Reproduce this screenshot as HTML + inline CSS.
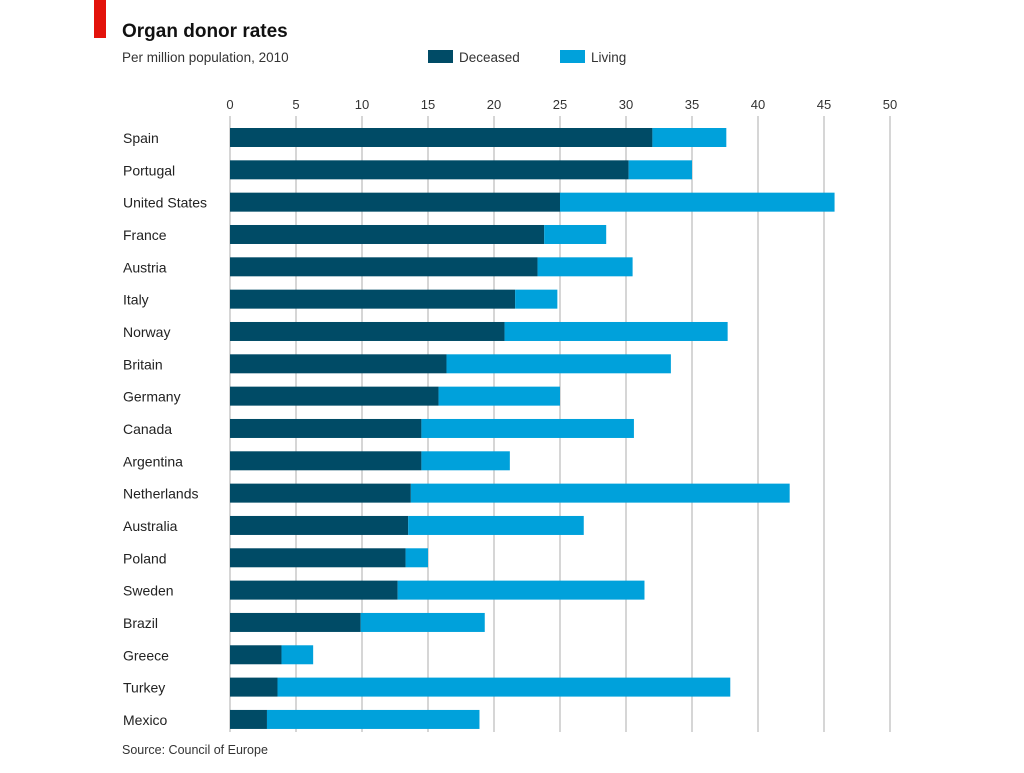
<!DOCTYPE html>
<html><head><meta charset="utf-8"><style>
body{margin:0;background:#fff;width:1024px;height:768px;overflow:hidden;font-family:"Liberation Sans",sans-serif}
</style></head><body>
<svg width="1024" height="768" id="c">
<rect x="94" y="0" width="12" height="38" fill="#e3120b"/>
<text x="122" y="37" font-size="19" font-weight="bold" fill="#111">Organ donor rates</text>
<text x="122" y="62" font-size="13.5" fill="#333">Per million population, 2010</text>
<g>
<rect x="428" y="50" width="25" height="13" fill="#004b66"/>
<text x="459" y="62" font-size="13.5" fill="#333">Deceased</text>
<rect x="560" y="50" width="25" height="13" fill="#00a1db"/>
<text x="591" y="62" font-size="13.5" fill="#333">Living</text>
</g>
<g id="grid"></g>
<g id="bars"></g>
<text x="122" y="754" font-size="12.5" fill="#333">Source: Council of Europe</text>
</svg>
<script>
const categories=["Spain","Portugal","United States","France","Austria","Italy","Norway","Britain","Germany","Canada","Argentina","Netherlands","Australia","Poland","Sweden","Brazil","Greece","Turkey","Mexico"];
const deceased=[32.0,30.2,25.0,23.8,23.3,21.6,20.8,16.4,15.8,14.5,14.5,13.7,13.5,13.3,12.7,9.9,3.9,3.6,2.8];
const living=[5.6,4.8,20.8,4.7,7.2,3.2,16.9,17.0,9.2,16.1,6.7,28.7,13.3,1.7,18.7,9.4,2.4,34.3,16.1];
const ticks=[0,5,10,15,20,25,30,35,40,45,50];
const NS="http://www.w3.org/2000/svg";
const x=v=>230+v*13.2;
const y=i=>138+i*32.33;
const g=document.getElementById('grid'),b=document.getElementById('bars');
function mk(t,a,p){const e=document.createElementNS(NS,t);for(const k in a)e.setAttribute(k,a[k]);p.appendChild(e);return e;}
ticks.forEach(t=>{
 const l=mk('line',{x1:x(t),x2:x(t),y1:116,y2:732,stroke:"#c8c8c8","stroke-width":1.5},g);
 
 
 const tx=mk('text',{x:x(t),y:109,"font-size":13,fill:"#333","text-anchor":"middle"},g);
 tx.textContent=t;
 
 
});
categories.forEach((c,i)=>{
 const cy=y(i);
 const lb=mk('text',{x:123,y:cy+5,"font-size":14,fill:"#222"},b);
 lb.textContent=c;
 
 
 const r1=mk('rect',{x:x(0),y:cy-10,width:x(deceased[i])-x(0),height:19,fill:"#004b66"},b);
 
 
 const r2=mk('rect',{x:x(deceased[i]),y:cy-10,width:x(deceased[i]+living[i])-x(deceased[i]),height:19,fill:"#00a1db"},b);
 
 
});
</script>
</body></html>
